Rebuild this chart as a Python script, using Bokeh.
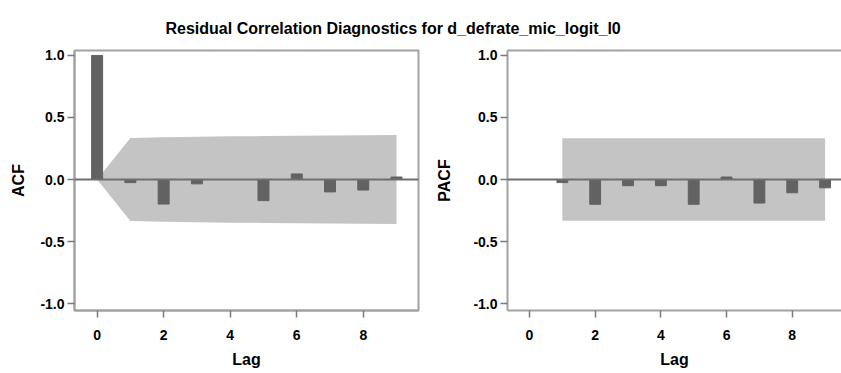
from bokeh.plotting import figure
from bokeh.models import Range1d, Span, LinearAxis, FixedTicker, NumeralTickFormatter
from bokeh.layouts import column, row
from bokeh.embed import file_html
from bokeh.resources import INLINE
from bokeh.core.properties import value

# ---- data ----
title_text = "Residual Correlation Diagnostics for d_defrate_mic_logit_l0"
lags = [0, 1, 2, 3, 4, 5, 6, 7, 8, 9]
acf = [1.0, -0.025, -0.198, -0.035, 0.0, -0.17, 0.045, -0.10, -0.085, 0.02]
acf_band = [0.0, 0.335, 0.34, 0.345, 0.348, 0.35, 0.352, 0.354, 0.356, 0.358]
pacf_lags = [1, 2, 3, 4, 5, 6, 7, 8, 9]
pacf = [-0.025, -0.20, -0.05, -0.05, -0.20, 0.02, -0.19, -0.107, -0.067]
pacf_band = [0.333, 0.333, 0.333, 0.333, 0.333, 0.333, 0.333, 0.333, 0.333]
x_ticks = [0, 2, 4, 6, 8]
y_ticks = [-1.0, -0.5, 0.0, 0.5, 1.0]

FONT = "Liberation Sans"
BAR = "#626262"
BAND = "#c4c4c4"
FRAME = "#a2a2a2"
ZERO = "#6e6e6e"


def style_axis(ax, label):
    ax.axis_label = label
    ax.axis_label_text_font = FONT
    ax.axis_label_text_font_style = "bold"
    ax.axis_label_text_font_size = "16px"
    ax.axis_label_text_color = "black"
    ax.major_label_text_font = FONT
    ax.major_label_text_font_style = "bold"
    ax.major_label_text_font_size = "14px"
    ax.major_label_text_color = "black"
    ax.axis_line_color = FRAME
    ax.axis_line_width = 2
    ax.major_tick_line_color = "#7a7a7a"
    ax.major_tick_line_width = 1.5
    ax.major_tick_in = 0
    ax.major_tick_out = 7
    ax.minor_tick_line_color = None


def make_panel(width, border_left, border_right, xr, label, outline, ylab_standoff):
    p = figure(width=width, height=327, output_backend="svg", toolbar_location=None,
               x_range=Range1d(*xr), y_range=Range1d(-1.056, 1.04),
               min_border_left=border_left, min_border_right=border_right,
               min_border_top=4, min_border_bottom=63)
    p.xgrid.visible = False
    p.ygrid.visible = False
    p.background_fill_color = "white"
    p.border_fill_color = "white"
    xax = p.below[0]
    yax = p.left[0]
    style_axis(xax, "Lag")
    style_axis(yax, label)
    xax.ticker = FixedTicker(ticks=x_ticks)
    yax.ticker = FixedTicker(ticks=y_ticks)
    yax.formatter = NumeralTickFormatter(format="0.0")
    xax.major_label_standoff = 12
    yax.major_label_standoff = 3
    xax.axis_label_standoff = 8
    yax.axis_label_standoff = ylab_standoff
    if outline:
        p.outline_line_color = FRAME
        p.outline_line_width = 2
    else:
        p.outline_line_color = None
        top = LinearAxis(ticker=FixedTicker(ticks=[]), major_tick_line_color=None,
                         minor_tick_line_color=None, major_label_text_font_size="0px",
                         axis_line_color=FRAME, axis_line_width=2)
        p.add_layout(top, "above")
    return p


p1 = make_panel(420, 74, 2, (-0.68, 9.66), "ACF", True, 10)
p1.varea(x=lags, y1=[-v for v in acf_band], y2=acf_band, fill_color=BAND)
p1.add_layout(Span(location=0, dimension="width", line_color=ZERO, line_width=2))
p1.vbar(x=lags, top=acf, bottom=0, width=0.33, fill_color=BAR, line_color=BAR)

p2 = make_panel(421, 87, 0, (-0.67, 9.5), "PACF", False, 17)
p2.varea(x=pacf_lags, y1=[-v for v in pacf_band], y2=pacf_band, fill_color=BAND)
p2.add_layout(Span(location=0, dimension="width", line_color=ZERO, line_width=2))
p2.vbar(x=pacf_lags, top=pacf, bottom=0, width=0.33, fill_color=BAR, line_color=BAR)

t = figure(width=841, height=46, output_backend="svg", toolbar_location=None,
           x_range=Range1d(0, 841), y_range=Range1d(46, 0),
           x_axis_location=None, y_axis_location=None,
           min_border=0, min_border_left=0, min_border_right=0,
           min_border_top=0, min_border_bottom=0)
t.xgrid.visible = False
t.ygrid.visible = False
t.outline_line_color = None
t.text(x=[165], y=[28], text=[title_text], text_font=value(FONT),
       text_font_style="bold", text_font_size="16px", text_color="black",
       text_baseline="alphabetic", text_align="left")

layout = column(t, row(p1, p2))
open("out.html", "w").write(file_html(layout, INLINE))
